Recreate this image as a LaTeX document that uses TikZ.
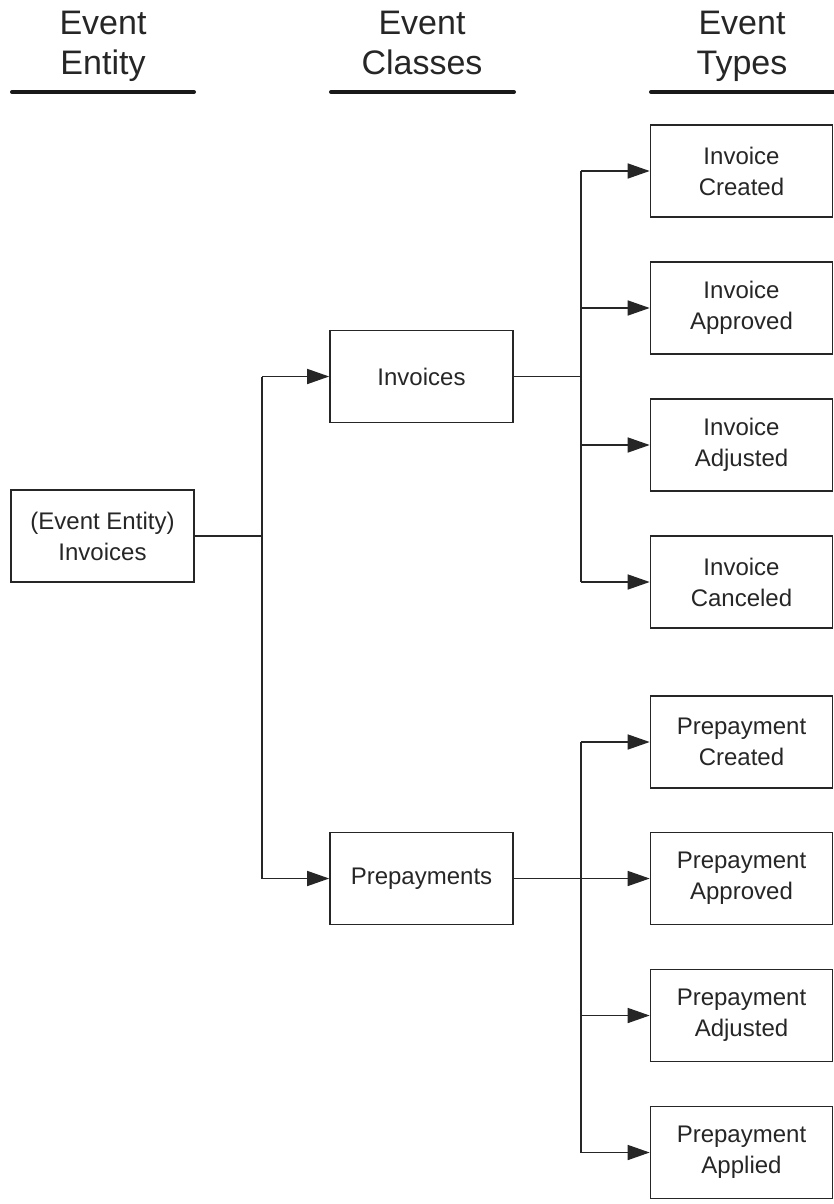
\documentclass[tikz,border=0pt]{standalone}
\usepackage{fontspec}
\setmainfont{Liberation Sans}
\usetikzlibrary{arrows.meta}
\begin{document}
\begin{tikzpicture}[x=1pt,y=-1pt,
  box/.style={draw=black!85,line width=1.6pt,minimum width=183pt,minimum height=92pt,
    inner sep=0pt,align=center,text=black!85,font=\fontsize{24}{31}\selectfont},
  head/.style={anchor=base,inner sep=0pt,text=black!85,font=\fontsize{34}{40}\selectfont},
  bar/.style={line width=4pt,line cap=round,black!90},
  link/.style={line width=1.5pt,black!85},
  arr/.style={link,-{Triangle[length=22pt,width=15pt]}}]
\useasboundingbox (0,0) rectangle (833,1204);

% column headings and their underlines
\node[head] (h1a) at (103,35) {Event};
\node[head] (h1b) at (103,75) {Entity};
\node[head] (h2a) at (422,35) {Event};
\node[head] (h2b) at (422,75) {Classes};
\node[head] (h3a) at (742,35) {Event};
\node[head] (h3b) at (742,75) {Types};
\draw[bar] (12,92) coordinate (b1a) -- (194,92) coordinate (b1b);
\draw[bar] (331,92) coordinate (b2a) -- (514,92) coordinate (b2b);
\draw[bar] (651,92) coordinate (b3a) -- (835,92) coordinate (b3b);

% entity
\node[box] (ent) at (102.5,536) {(Event Entity)\\Invoices};

% classes
\node[box] (cinv) at (421.5,376.5) {Invoices};
\node[box] (cpre) at (421.5,878.5) {Prepayments};

% invoice event types
\node[box,minimum width=182pt] (tic) at (741.5,171) {Invoice\\Created};
\node[box,minimum width=182pt] (tia) at (741.5,308) {Invoice\\Approved};
\node[box,minimum width=182pt] (tij) at (741.5,445) {Invoice\\Adjusted};
\node[box,minimum width=182pt] (tin) at (741.5,582) {Invoice\\Canceled};

% prepayment event types
\node[box,minimum width=182pt] (tpc) at (741.5,742) {Prepayment\\Created};
\node[box,minimum width=182pt] (tpa) at (741.5,878.5) {Prepayment\\Approved};
\node[box,minimum width=182pt] (tpj) at (741.5,1015.5) {Prepayment\\Adjusted};
\node[box,minimum width=182pt] (tpl) at (741.5,1152.5) {Prepayment\\Applied};

% branching trunks
\coordinate (j0) at (262,536);
\coordinate (j1) at (581,376.5);

% entity -> classes
\draw[link] (ent.east) -- (j0);
\draw[link] (j0 |- cinv) -- (j0 |- cpre);
\draw[arr] (j0 |- cinv) -- (cinv);
\draw[arr] (j0 |- cpre) -- (cpre);

% invoices -> invoice types
\draw[link] (cinv.east) -- (j1);
\draw[link] (j1 |- tic) -- (j1 |- tin);
\draw[arr] (j1 |- tic) -- (tic);
\draw[arr] (j1 |- tia) -- (tia);
\draw[arr] (j1 |- tij) -- (tij);
\draw[arr] (j1 |- tin) -- (tin);

% prepayments -> prepayment types
\draw[link] (j1 |- tpc) -- (j1 |- tpl);
\draw[arr] (cpre) -- (tpa);
\draw[arr] (j1 |- tpc) -- (tpc);
\draw[arr] (j1 |- tpj) -- (tpj);
\draw[arr] (j1 |- tpl) -- (tpl);
\end{tikzpicture}
\end{document}
